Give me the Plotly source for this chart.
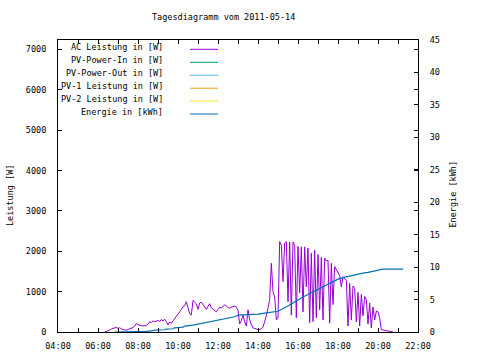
import pandas as pd
import plotly.graph_objects as go

DAY = "2011-05-14"
TITLE = "Tagesdiagramm vom 2011-05-14"

# AC power [W], 5-minute samples starting 06:20
ac_start = DAY + " 06:20"
ac_watts = [
    0, 10, 30, 45, 75, 90, 100, 115,                                  # 06:20-06:55
    90, 105, 80, 55, 50, 50, 55, 85, 90, 105, 150, 210,                # 07:00-07:55
    180, 160, 155, 150, 155, 160, 200, 255, 235, 275, 255, 265,        # 08:00-08:55
    285, 260, 310, 270, 320, 260, 175, 250, 215, 275, 340, 400,        # 09:00-09:55
    460, 500, 560, 630, 650, 750, 600, 450, 420, 780, 740, 700,        # 10:00-10:55
    560, 720, 740, 680, 600, 560, 640, 700, 600, 560, 530, 500,        # 11:00-11:55
    560, 610, 600, 640, 670, 650, 600, 590, 620, 630, 640, 620,        # 12:00-12:55
    530, 200, 280, 420, 250, 150, 550, 300, 180, 100, 90, 80,          # 13:00-13:55
    50, 60, 80, 120, 250, 400, 600, 800, 1700, 1000, 870, 300,         # 14:00-14:55
    350, 2240, 2150, 1250, 2200, 2240, 750, 2230, 420, 2230, 2150, 350,  # 15:00-15:55
    2120, 970, 2110, 500, 2110, 1120, 2080, 230, 1950, 260, 2030, 350,   # 16:00-16:55
    1920, 550, 1850, 300, 1830, 1760, 1780, 220, 1700, 680, 1620, 1550,  # 17:00-17:55
    1500, 1400, 1120, 1370, 1320, 1280, 150, 1200, 300, 1140, 1080, 250, # 18:00-18:55
    980, 150, 930, 400, 880, 800, 200, 720, 100, 620, 300, 520,          # 19:00-19:55
    500, 350, 60, 50, 40, 30, 20, 15, 10, 0,                             # 20:00-20:45
]

# Energy [kWh]
energy_times = [
    "06:50", "08:20", "08:25", "08:45", "08:50", "09:20", "09:25", "09:45", "09:50",
    "10:15", "10:20", "10:45", "11:10", "11:35", "12:00", "12:25", "12:50", "13:00",
    "13:30", "14:00", "14:25", "14:45", "15:00", "15:30", "16:00", "16:15", "16:30",
    "16:45", "17:00", "17:15", "17:30", "17:45", "18:00", "18:15", "18:30", "18:45",
    "19:00", "19:15", "19:30", "19:45", "20:00", "20:10", "20:15", "21:15",
]
energy_kwh = [
    0.0, 0.05, 0.1, 0.2, 0.3, 0.35, 0.45, 0.5, 0.65,
    0.75, 0.9, 1.05, 1.3, 1.55, 1.85, 2.1, 2.35, 2.6,
    2.7, 2.75, 2.95, 3.1, 3.2, 4.0, 5.0, 5.4, 5.77,
    6.15, 6.6, 7.0, 7.3, 7.7, 8.15, 8.38, 8.57, 8.77,
    8.92, 9.08, 9.2, 9.35, 9.49, 9.54, 9.7, 9.7,
]

legend_labels = [
    "AC Leistung in [W]", "PV-Power-In in [W]", "PV-Power-Out in [W]",
    "PV-1 Leistung in [W]", "PV-2 Leistung in [W]", "Energie in [kWh]",
]
legend_colors = ["#9400D3", "#009E73", "#56B4E9", "#E69F00", "#F0E442", "#0072B2"]

FONT = "DejaVu Sans Mono"
FS = 8.5

ac_times = pd.date_range(ac_start, periods=len(ac_watts), freq="5min")
e_times = [pd.Timestamp(DAY + " " + t) for t in energy_times]

fig = go.Figure()
fig.add_trace(go.Scatter(x=ac_times, y=ac_watts, mode="lines",
                         line=dict(color=legend_colors[0], width=1),
                         showlegend=False, yaxis="y"))
fig.add_trace(go.Scatter(x=e_times, y=energy_kwh, mode="lines",
                         line=dict(color=legend_colors[5], width=1.2),
                         showlegend=False, yaxis="y2"))

PL, PR, PT, PB = 58, 418, 40, 332
W, H = 480, 360

def px2paper_x(px):
    return (px - PL) / (PR - PL)

def px2paper_y(py):
    return (PB - py) / (PB - PT)

annotations = []
shapes = []
line_ys = [49.3, 62.3, 75.2, 88.2, 101.1, 114.0]
for lab, col, ly in zip(legend_labels, legend_colors, line_ys):
    annotations.append(dict(text=lab, x=px2paper_x(165), y=px2paper_y(ly), xref="paper", yref="paper",
                            xanchor="right", yanchor="middle", yshift=2, showarrow=False,
                            font=dict(family=FONT, size=FS, color="black")))
    shapes.append(dict(type="line", xref="paper", yref="paper",
                       x0=px2paper_x(190), x1=px2paper_x(218),
                       y0=px2paper_y(ly), y1=px2paper_y(ly),
                       line=dict(color=col, width=1)))

annotations.append(dict(text=TITLE, x=px2paper_x(223), y=px2paper_y(17.5), xref="paper", yref="paper",
                        xanchor="center", yanchor="middle", showarrow=False,
                        font=dict(family=FONT, size=FS, color="black")))
annotations.append(dict(text="Leistung [W]", x=px2paper_x(10), y=px2paper_y(196), xref="paper", yref="paper",
                        xanchor="center", yanchor="middle", textangle=-90, showarrow=False,
                        font=dict(family=FONT, size=FS, color="black")))
annotations.append(dict(text="Energie [kWh]", x=px2paper_x(452.5), y=px2paper_y(194), xref="paper", yref="paper",
                        xanchor="center", yanchor="middle", textangle=-90, showarrow=False,
                        font=dict(family=FONT, size=FS, color="black")))

axis_common = dict(showline=True, linecolor="black", linewidth=1, showgrid=False, zeroline=False,
                   ticks="inside", ticklen=4, tickcolor="black", tickwidth=1, automargin=False,
                   tickfont=dict(family=FONT, size=FS, color="black"))

fig.update_layout(
    width=W, height=H,
    margin=dict(l=PL, r=W - PR, t=PT, b=H - PB, pad=0, autoexpand=False),
    paper_bgcolor="white", plot_bgcolor="white",
    showlegend=False,
    xaxis=dict(type="date", range=[DAY + " 04:00", DAY + " 22:00"],
               tick0=DAY + " 04:00", dtick=7200000, tickformat="%H:%M",
               mirror="ticks", ticklabelstandoff=6,
               minor=dict(dtick=3600000, ticks="inside", ticklen=4, tickcolor="black", showgrid=False),
               **axis_common),
    yaxis=dict(range=[0, 7235], dtick=1000, mirror="ticks", ticklabelstandoff=9, **axis_common),
    yaxis2=dict(range=[0, 45], dtick=5, overlaying="y", side="right", anchor="x",
                ticklabelstandoff=9, **axis_common),
    annotations=annotations,
    shapes=shapes,
)

fig.write_html("out.html", config={"displayModeBar": False},
               post_script="document.body.style.margin='0px';document.body.style.overflow='hidden';")
